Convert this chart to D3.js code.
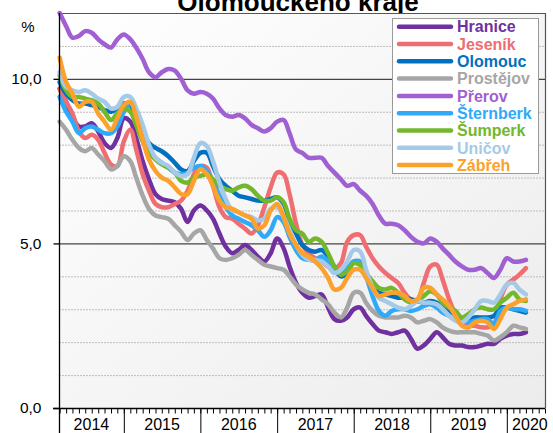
<!DOCTYPE html>
<html>
<head>
<meta charset="utf-8">
<script src="https://cdn.jsdelivr.net/npm/d3@7"></script>
<style>
  body { margin: 0; background: #fff; }
  svg { display: block; font-family: "Liberation Sans", Arial, sans-serif; }
</style>
</head>
<body>
<div id="holder"></div>
<script>
// monthly data, March 2014 .. April 2020
var months = d3.timeMonth.range(new Date(2014, 2, 1), new Date(2020, 4, 2));

var names = ["Hranice", "Jeseník", "Olomouc", "Prostějov", "Přerov", "Šternberk", "Šumperk", "Uničov", "Zábřeh"];
var colors = ["#7030a0", "#ee6e72", "#0070c0", "#a6a6a6", "#a05fd2", "#2eaaf8", "#72b72c", "#a4cae8", "#fba12c"];

var hranice = [9.7,9.3,8.85,8.55,8.55,8.65,8.4,8.05,7.9,8.2,8.8,8.7,8.2,7.5,6.95,6.5,6.35,6.3,6.25,6.05,5.65,6.0,6.15,6.0,5.75,5.3,4.9,4.7,4.8,4.95,4.8,4.6,4.45,4.7,5.15,4.85,4.3,3.8,3.5,3.35,3.4,3.45,3.05,2.7,2.65,2.75,3.0,3.05,2.8,2.55,2.35,2.3,2.25,2.3,2.35,2.1,1.8,1.9,2.1,2.3,2.15,1.95,1.9,1.9,1.85,1.85,1.9,1.95,1.95,2.1,2.2,2.25,2.25,2.3];
var jesenik = [9.7,9.3,8.95,8.4,8.2,8.3,8.15,7.75,7.4,7.35,8.1,8.45,7.85,7.1,6.6,6.2,6.1,6.1,6.2,6.3,6.6,7.1,7.35,7.3,6.75,6.1,5.8,5.75,5.6,5.45,5.3,5.55,6.1,6.7,7.15,7.1,6.5,5.6,4.95,4.7,4.55,4.45,4.3,4.25,4.4,5.05,5.25,5.25,4.9,4.55,4.3,4.1,3.95,3.8,3.5,3.3,3.3,3.8,4.3,4.35,3.9,3.3,2.85,2.6,2.5,2.5,2.45,2.45,2.55,3.3,3.75,3.9,4.05,4.25];
var olomouc = [9.9,9.55,9.35,9.25,9.25,9.2,9.15,9.05,9.0,9.1,9.25,9.2,8.85,8.35,8.05,7.9,7.8,7.65,7.45,7.25,7.2,7.5,7.75,7.75,7.35,6.95,6.75,6.6,6.45,6.4,6.35,6.3,6.3,6.35,6.4,6.2,5.7,5.3,4.95,4.8,4.75,4.8,4.6,4.25,4.0,4.1,4.45,4.4,4.0,3.65,3.5,3.45,3.4,3.35,3.35,3.3,3.25,3.2,3.25,3.2,3.05,2.95,2.8,2.65,2.7,2.75,2.75,2.75,2.8,3.05,3.05,3.0,2.95,2.9];
var prostejov = [8.7,8.45,8.15,7.9,7.8,7.9,7.7,7.5,7.25,7.35,7.65,7.5,7.0,6.45,6.05,5.85,5.8,5.75,5.55,5.35,5.1,5.3,5.4,5.1,4.85,4.55,4.5,4.55,4.65,4.8,4.65,4.5,4.35,4.3,4.25,4.2,4.0,3.75,3.6,3.5,3.45,3.3,3.15,2.9,2.75,3.05,3.5,3.5,3.2,2.95,2.8,2.75,2.75,2.75,2.8,2.75,2.6,2.65,2.7,2.6,2.45,2.35,2.3,2.3,2.3,2.3,2.25,2.2,2.05,2.15,2.3,2.5,2.45,2.4];
var prerov = [12.0,11.6,11.25,11.3,11.45,11.4,11.2,11.05,10.95,11.2,11.35,11.2,10.95,10.6,10.2,10.05,10.2,10.3,10.25,10.0,9.65,9.55,9.6,9.55,9.4,9.1,8.9,8.85,8.9,8.8,8.6,8.5,8.4,8.5,8.7,8.75,8.35,7.85,7.75,7.6,7.6,7.6,7.35,7.15,6.95,6.75,6.8,6.6,6.45,6.2,5.85,5.6,5.6,5.55,5.4,5.2,5.05,5.0,5.15,5.05,4.85,4.65,4.45,4.3,4.2,4.2,4.25,4.1,3.95,4.2,4.55,4.45,4.45,4.5];
var sternberk = [9.45,9.0,8.7,8.35,8.5,8.55,8.45,8.35,8.35,8.55,9.0,9.25,8.95,8.3,7.85,7.6,7.45,7.3,7.15,7.1,7.15,7.3,7.35,7.2,6.9,6.45,6.1,5.85,5.75,5.65,5.55,5.4,5.2,5.4,5.8,5.65,5.2,4.8,4.55,4.5,4.5,4.6,4.45,4.2,4.15,4.25,4.45,4.45,4.0,3.4,2.95,2.8,2.95,3.0,3.0,2.95,3.0,3.1,3.15,3.05,2.9,2.8,2.7,2.65,2.6,2.65,2.7,2.7,2.55,2.95,3.05,3.0,3.0,2.95];
var sumperk = [10.1,9.65,9.45,9.45,9.4,9.35,9.25,9.0,8.75,8.95,9.1,9.0,8.6,8.1,7.75,7.55,7.4,7.3,7.15,6.9,6.85,7.0,7.05,7.1,6.95,6.75,6.65,6.6,6.7,6.75,6.65,6.45,6.3,6.3,6.4,6.25,5.75,5.4,5.3,5.05,5.15,5.05,4.7,4.3,4.05,4.15,4.4,4.35,4.1,3.85,3.65,3.6,3.65,3.5,3.3,3.2,3.25,3.4,3.55,3.45,3.2,3.05,2.95,2.75,2.85,3.0,3.05,3.0,3.0,3.2,3.35,3.5,3.3,3.25];
var unicov = [10.2,9.75,9.65,9.6,9.65,9.55,9.4,9.3,9.1,9.15,9.45,9.45,9.1,8.6,8.0,7.6,7.45,7.35,7.15,7.05,7.1,7.6,8.05,7.95,7.5,6.85,6.35,6.0,5.95,5.85,5.8,5.7,5.75,6.05,6.1,5.8,5.4,4.95,4.65,4.5,4.5,4.45,4.3,4.1,4.2,4.45,4.8,4.75,4.2,3.65,3.35,3.25,3.15,3.05,3.0,3.1,3.25,3.2,3.2,3.15,3.0,2.8,2.65,2.6,2.75,3.0,3.25,3.25,3.2,3.45,3.75,3.8,3.6,3.45];
var zabreh = [10.65,9.9,9.55,9.15,9.3,9.3,8.95,8.7,8.45,8.8,9.2,9.3,8.85,8.15,7.55,7.2,7.0,6.9,6.7,6.5,6.5,6.9,7.25,7.1,6.75,6.3,6.1,6.05,5.95,5.85,5.75,5.45,5.55,6.0,6.2,5.8,5.3,4.95,4.7,4.6,4.45,4.25,3.95,3.6,3.65,3.95,4.2,4.2,3.95,3.65,3.4,3.45,3.5,3.5,3.4,3.25,3.3,3.65,3.65,3.45,3.3,3.1,2.8,2.5,2.45,2.6,2.65,2.6,2.4,2.7,3.05,3.15,3.25,3.3];

var seriesValues = [hranice, jesenik, olomouc, prostejov, prerov, sternberk, sumperk, unicov, zabreh];

var yLabelTicks = [0, 5, 10];
var yMinorGrid = [1, 2, 3, 4, 6, 7, 8, 9, 11];
var yearLabels = ["2014", "2015", "2016", "2017", "2018", "2019", "2020"];

var fullWidth = 553, fullHeight = 433;
var plot = {left: 59, right: 545, top: 13, bottom: 408};

var svg = d3.select('#holder').append('svg')
  .attr('width', fullWidth)
  .attr('height', fullHeight);

var xScale = d3.scaleTime()
  .domain([new Date(2014, 1, 26), new Date(2020, 6, 1)])
  .range([plot.left, plot.right]);

var yScale = d3.scaleLinear()
  .domain([0, 12])
  .range([plot.bottom, plot.top]);

// title (cut off at top in the original)
svg.append('text')
  .attr('x', 298)
  .attr('y', 11)
  .attr('text-anchor', 'middle')
  .style('font-size', '26px')
  .style('font-weight', 'bold')
  .text('Olomouckého kraje');

// plot background gradient
var defs = svg.append('defs');
var grad = defs.append('linearGradient')
  .attr('id', 'bg')
  .attr('x1', '0').attr('y1', '0').attr('x2', '1').attr('y2', '1');
grad.append('stop').attr('offset', '0%').attr('stop-color', '#ffffff');
grad.append('stop').attr('offset', '100%').attr('stop-color', '#ececec');

svg.append('rect')
  .attr('x', plot.left)
  .attr('y', plot.top)
  .attr('width', plot.right - plot.left)
  .attr('height', plot.bottom - plot.top)
  .attr('fill', 'url(#bg)');

// dotted grid
svg.append('g').selectAll('line')
  .data(yMinorGrid)
  .enter().append('line')
  .attr('x1', plot.left).attr('x2', plot.right)
  .attr('y1', function(d) { return yScale(d) + 0.5; })
  .attr('y2', function(d) { return yScale(d) + 0.5; })
  .attr('stroke', '#bdbdbd')
  .attr('stroke-dasharray', '2,1');

// solid grid at 5 and 10
svg.append('g').selectAll('line')
  .data([5, 10])
  .enter().append('line')
  .attr('x1', plot.left).attr('x2', plot.right)
  .attr('y1', function(d) { return yScale(d) + 0.5; })
  .attr('y2', function(d) { return yScale(d) + 0.5; })
  .attr('stroke', '#444')
  .attr('stroke-width', 1.2);

// top and right border
svg.append('path')
  .attr('d', 'M' + plot.left + ',' + (plot.top + 0.5) + 'H' + (plot.right + 0.5) + 'V' + plot.bottom)
  .attr('fill', 'none')
  .attr('stroke', '#555')
  .attr('stroke-width', 1.2);

// lines
var line = d3.line()
  .x(function(d, i) { return xScale(months[i]); })
  .y(function(d) { return yScale(d); })
  .curve(d3.curveCatmullRom.alpha(0.5));

svg.append('g').selectAll('path')
  .data(seriesValues)
  .enter().append('path')
  .attr('d', line)
  .attr('fill', 'none')
  .attr('stroke', function(d, i) { return colors[i]; })
  .attr('stroke-width', 4.5)
  .attr('stroke-linejoin', 'round')
  .attr('stroke-linecap', 'round');

// y axis
var yAxis = d3.axisLeft(yScale)
  .tickValues(yLabelTicks)
  .tickSize(6)
  .tickSizeOuter(0)
  .tickPadding(12)
  .tickFormat(function(d) { return d3.format('.1f')(d).replace('.', ','); });

var yg = svg.append('g')
  .attr('transform', 'translate(' + (plot.left + 0.5) + ',0)')
  .call(yAxis);
yg.selectAll('text').style('font-size', '15.5px').attr('fill', '#000');
yg.selectAll('line, path').attr('stroke', '#000').attr('stroke-width', 1.3);
yg.select('.domain').attr('d', 'M0,' + plot.top + 'V' + fullHeight);

svg.append('text')
  .attr('x', 28)
  .attr('y', 32)
  .attr('text-anchor', 'middle')
  .style('font-size', '15px')
  .text('%');

// x axis: monthly ticks
var monthTicks = d3.timeMonth.range(new Date(2014, 2, 1), new Date(2020, 6, 2));
var xAxis = d3.axisBottom(xScale)
  .tickValues(monthTicks)
  .tickSize(5)
  .tickSizeOuter(0)
  .tickFormat('');

var xg = svg.append('g')
  .attr('transform', 'translate(0,' + (plot.bottom + 0.5) + ')')
  .call(xAxis);
xg.selectAll('line').attr('stroke', '#000');
xg.select('.domain').attr('stroke', '#000').attr('stroke-width', 1.3)
  .attr('d', 'M' + (plot.left - 6) + ',0H' + plot.right);

// year separators
var yearStarts = yearLabels.slice(1).map(function(y) { return new Date(+y, 0, 1); });
var sepAxis = d3.axisBottom(xScale)
  .tickValues(yearStarts)
  .tickSize(fullHeight - plot.bottom)
  .tickSizeOuter(0)
  .tickFormat('');
var sg = svg.append('g')
  .attr('transform', 'translate(0,' + (plot.bottom + 0.5) + ')')
  .call(sepAxis);
sg.select('.domain').remove();
sg.selectAll('line').attr('stroke', '#000');

// year labels centered between separators
svg.append('g').selectAll('text')
  .data(yearLabels)
  .enter().append('text')
  .attr('x', function(d) {
    var a = Math.max(plot.left, xScale(new Date(+d, 0, 1)));
    var b = Math.min(fullWidth, xScale(new Date(+d + 1, 0, 1)));
    return (a + b) / 2;
  })
  .attr('y', 430)
  .attr('text-anchor', 'middle')
  .style('font-size', '16px')
  .text(function(d) { return d; });

// legend
var legend = svg.append('g');
legend.append('rect')
  .attr('x', 392.5).attr('y', 18.5)
  .attr('width', 146).attr('height', 155)
  .attr('fill', '#fff')
  .attr('stroke', '#9a9a9a');

var rows = legend.selectAll('.row')
  .data(names)
  .enter().append('g')
  .attr('class', 'row')
  .attr('transform', function(d, i) { return 'translate(0,' + (26.7 + i * 17.3) + ')'; });

rows.append('line')
  .attr('x1', 399).attr('x2', 451)
  .attr('stroke', function(d, i) { return colors[i]; })
  .attr('stroke-width', 4.5)
  .attr('stroke-linecap', 'round');

rows.append('text')
  .attr('x', 457)
  .attr('dy', '0.36em')
  .style('font-size', '16px')
  .style('font-weight', 'bold')
  .attr('fill', function(d, i) { return colors[i]; })
  .text(function(d) { return d; });
</script>
</body>
</html>
